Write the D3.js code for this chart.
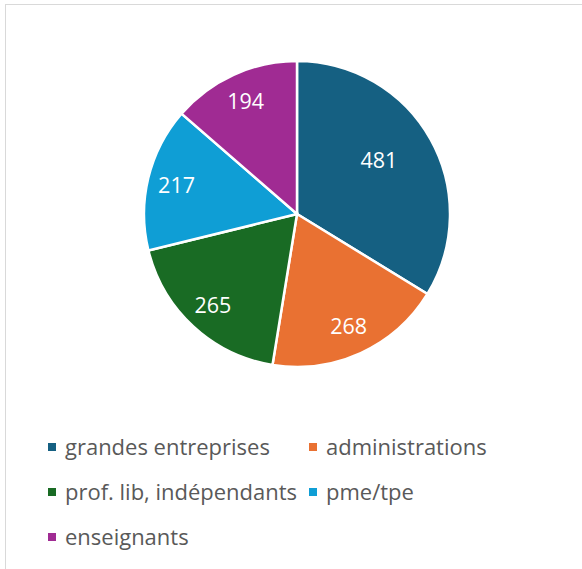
<!DOCTYPE html>
<html>
<head>
<meta charset="utf-8">
<script src="https://cdn.jsdelivr.net/npm/d3@7"></script>
<style>
  body { margin: 0; background: #fff; }
  text { font-family: "Open Sans", "Noto Sans", sans-serif; }
</style>
</head>
<body>
<script>
// data
var categories = ["grandes entreprises", "administrations", "prof. lib, indépendants", "pme/tpe", "enseignants"];
var values = [481, 268, 265, 217, 194];
var colors = ["#156082", "#E97132", "#196B24", "#0F9ED5", "#A02B93"];

var width = 582, height = 569;
var cx = 297, cy = 214, radius = 153;

var svg = d3.select("body").append("svg")
    .attr("width", width)
    .attr("height", height);

// chart frame (only left and top edges are in view)
svg.append("rect")
    .attr("x", 5.5).attr("y", 4.5)
    .attr("width", width + 20).attr("height", height + 20)
    .attr("fill", "none")
    .attr("stroke", "#d9d9d9");

var slices = categories.map((c, i) => ({name: c, value: values[i], color: colors[i]}));

var pie = d3.pie().sort(null).value(d => d.value);
var arc = d3.arc().innerRadius(0).outerRadius(radius);

var g = svg.append("g").attr("transform", `translate(${cx},${cy})`);

var arcs = pie(slices);

g.selectAll("path")
  .data(arcs)
  .enter().append("path")
    .attr("d", arc)
    .attr("fill", d => d.data.color)
    .attr("stroke", "#fff")
    .attr("stroke-width", 2.5);

// labels: big slices get their label nearer the middle
g.selectAll("text.lbl")
  .data(arcs)
  .enter().append("text")
    .attr("class", "lbl")
    .attr("transform", d => {
      var big = (d.endAngle - d.startAngle) > Math.PI / 2;
      var r = big ? radius * 0.64 : radius * 0.81;
      var a = (d.startAngle + d.endAngle) / 2 - (big ? 0.07 : 0);
      return `translate(${r * Math.sin(a)},${-r * Math.cos(a)})`;
    })
    .attr("text-anchor", "middle")
    .attr("dy", "0.36em")
    .attr("fill", "#fff")
    .attr("font-size", 21.5)
    .text(d => d.data.value);

// legend, two columns
var legend = svg.append("g");
var colX = [48, 309], rowY = [447, 492, 537];

var item = legend.selectAll("g")
  .data(slices)
  .enter().append("g")
    .attr("transform", (d, i) => `translate(${colX[i % 2]},${rowY[Math.floor(i / 2)]})`);

item.append("rect")
    .attr("x", 0).attr("y", -4)
    .attr("width", 8).attr("height", 8)
    .attr("fill", d => d.color);

var labels = item.append("text")
    .attr("x", 17)
    .attr("dy", "0.35em")
    .attr("fill", "#595959")
    .attr("font-size", 20)
    .text(d => d.name);

// size the legend font so the first entry spans about 205px, as in the picture
var w0 = labels.node().getComputedTextLength();
labels.attr("font-size", 20 * 205 / w0);
</script>
</body>
</html>
